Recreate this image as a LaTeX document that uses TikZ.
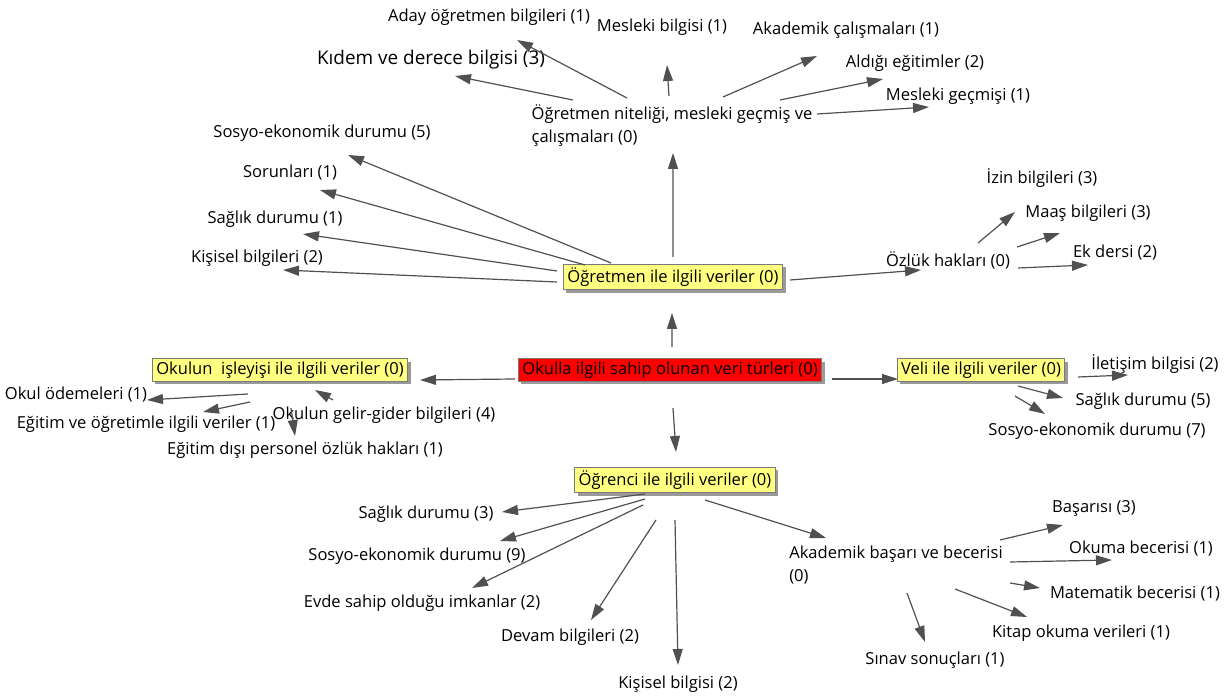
\documentclass[tikz,border=0pt]{standalone}
\usepackage{fontspec}
\setmainfont{Open Sans}
\usetikzlibrary{arrows.meta,shadows}
\definecolor{boxyellow}{HTML}{FFFF80}
\definecolor{boxred}{HTML}{FF0000}
\definecolor{linkgray}{HTML}{505050}
\definecolor{framegray}{HTML}{7A7A7A}
\definecolor{shadegray}{HTML}{9A9A9A}
\tikzset{
  lbl/.style={inner sep=1bp,font=\fontsize{8.3}{11.5}\selectfont},
  ybox/.style={lbl,draw=framegray,line width=0.5bp,fill=boxyellow,inner xsep=2bp,inner ysep=1.6bp,
    drop shadow={shadow xshift=1.5bp,shadow yshift=-1.5bp,fill=shadegray,opacity=1}},
  rbox/.style={ybox,fill=boxred},
  link/.style={draw=linkgray,line width=0.6bp},
}
\begin{document}
\begin{tikzpicture}[>={Triangle[length=8bp,width=5bp]},line join=bevel,]
\useasboundingbox (0bp,0bp) rectangle (613.5bp,349bp);
%%
\node (node_okulla) at (335.0bp,164.0bp) [rbox] {Okulla ilgili sahip olunan veri türleri (0)};
  \node (node_ogretmen) at (336.5bp,210.5bp) [ybox] {Öğretmen ile ilgili veriler (0)};
  \node (node_isleyis) at (140.0bp,164.0bp) [ybox] {Okulun\ \ işleyişi ile ilgili veriler (0)};
  \node (node_veli) at (490.5bp,164.0bp) [ybox] {Veli ile ilgili veriler (0)};
  \node (node_ogrenci) at (337.5bp,109.0bp) [ybox] {Öğrenci ile ilgili veriler (0)};
%
  \node (node_nitelik) at (336.0bp,286.0bp) [lbl,align=left] {Öğretmen niteliği, mesleki geçmiş ve\\çalışmaları (0)};
  \node (node_aday) at (244.5bp,340.5bp) [lbl] {Aday öğretmen bilgileri (1)};
  \node (node_meslekibilgi) at (331.0bp,335.5bp) [lbl] {Mesleki bilgisi (1)};
  \node (node_akademikcal) at (423.0bp,334.0bp) [lbl] {Akademik çalışmaları (1)};
  \node (node_aldigi) at (457.5bp,317.5bp) [lbl] {Aldığı eğitimler (2)};
  \node (node_meslekigecmis) at (479.0bp,301.0bp) [lbl] {Mesleki geçmişi (1)};
  \node (node_kidem) at (215.5bp,319.0bp) [lbl,font=\fontsize{9.5}{11}\selectfont] {Kıdem ve derece bilgisi (3)};
  \node (node_sosyo5) at (161.0bp,282.5bp) [lbl] {Sosyo-ekonomik durumu (5)};
  \node (node_sorunlari) at (145.0bp,262.5bp) [lbl] {Sorunları (1)};
  \node (node_saglik1) at (137.5bp,239.5bp) [lbl] {Sağlık durumu (1)};
  \node (node_kisisel2) at (128.5bp,220.0bp) [lbl] {Kişisel bilgileri (2)};
  \node (node_ozluk) at (474.0bp,219.0bp) [lbl] {Özlük hakları (0)};
  \node (node_izin) at (521.0bp,260.0bp) [lbl] {İzin bilgileri (3)};
  \node (node_maas) at (544.0bp,242.5bp) [lbl] {Maaş bilgileri (3)};
  \node (node_ekders) at (557.5bp,222.5bp) [lbl] {Ek dersi (2)};
%
  \node (node_odemeler) at (38.0bp,151.5bp) [lbl] {Okul ödemeleri (1)};
  \node (node_egitimogretim) at (73.0bp,137.0bp) [lbl] {Eğitim ve öğretimle ilgili veriler (1)};
  \node (node_gelirgider) at (192.0bp,141.5bp) [lbl] {Okulun gelir-gider bilgileri (4)};
  \node (node_egitimdisi) at (152.5bp,124.0bp) [lbl] {Eğitim dışı personel özlük hakları (1)};
  \node (node_iletisim) at (577.5bp,167.0bp) [lbl] {İletişim bilgisi (2)};
  \node (node_saglik5) at (571.5bp,148.5bp) [lbl] {Sağlık durumu (5)};
  \node (node_sosyo7) at (548.5bp,133.5bp) [lbl] {Sosyo-ekonomik durumu (7)};
%
  \node (node_saglik3) at (213.0bp,92.0bp) [lbl] {Sağlık durumu (3)};
  \node (node_sosyo9) at (208.5bp,71.0bp) [lbl] {Sosyo-ekonomik durumu (9)};
  \node (node_evde) at (211.0bp,47.5bp) [lbl] {Evde sahip olduğu imkanlar (2)};
  \node (node_devam) at (285.0bp,30.5bp) [lbl] {Devam bilgileri (2)};
  \node (node_kisiselbilgisi) at (339.0bp,7.0bp) [lbl] {Kişisel bilgisi (2)};
  \node (node_akademik) at (448.0bp,66.5bp) [lbl,align=left] {Akademik başarı ve becerisi\\(0)};
  \node (node_basarisi) at (547.0bp,94.5bp) [lbl] {Başarısı (3)};
  \node (node_okuma) at (570.5bp,74.5bp) [lbl] {Okuma becerisi (1)};
  \node (node_matematik) at (567.5bp,52.0bp) [lbl] {Matematik becerisi (1)};
  \node (node_kitap) at (540.5bp,32.5bp) [lbl] {Kitap okuma verileri (1)};
  \node (node_sinav) at (467.5bp,19.0bp) [lbl] {Sınav sonuçları (1)};
%%
  \draw [link,->] ([xshift=1bp,yshift=11.5bp]node_okulla.center) -- ([xshift=-0.5bp,yshift=-18bp]node_ogretmen.center);
  \draw [link,->] ([xshift=-77.5bp,yshift=-4.5bp]node_okulla.center) -- ([xshift=70bp,yshift=-5bp]node_isleyis.center);
  \draw [link,->] ([xshift=81bp,yshift=-4.5bp]node_okulla.center) -- ([xshift=-41.5bp,yshift=-4.5bp]node_veli.center);
  \draw [link,->] ([xshift=1.5bp,yshift=-19bp]node_okulla.center) -- ([xshift=0.5bp,yshift=14bp]node_ogrenci.center);
%
  \draw [link,->] ([yshift=10bp]node_ogretmen.center) -- ([xshift=0.5bp,yshift=-13.5bp]node_nitelik.center);
  \draw [link,->] ([xshift=-22.5bp,yshift=14bp]node_nitelik.center) -- ([xshift=14bp,yshift=-11.5bp]node_aday.center);
  \draw [link,->] ([xshift=-49.5bp,yshift=13bp]node_nitelik.center) -- ([xshift=12bp,yshift=-8bp]node_kidem.center);
  \draw [link,->] ([xshift=-1.5bp,yshift=15bp]node_nitelik.center) -- ([xshift=2.5bp,yshift=-19bp]node_meslekibilgi.center);
  \draw [link,->] ([xshift=25.5bp,yshift=14.5bp]node_nitelik.center) -- ([xshift=-14.5bp,yshift=-13bp]node_akademikcal.center);
  \draw [link,->] ([xshift=54bp,yshift=13bp]node_nitelik.center) -- ([xshift=-16bp,yshift=-8bp]node_aldigi.center);
  \draw [link,->] ([xshift=72.5bp,yshift=6bp]node_nitelik.center) -- ([xshift=-14.5bp,yshift=-5.5bp]node_meslekigecmis.center);
  \draw [link,->] ([xshift=-31bp,yshift=7bp]node_ogretmen.center) -- ([xshift=13bp,yshift=-11bp]node_sosyo5.center);
  \draw [link,->] ([xshift=-44bp,yshift=6bp]node_ogretmen.center) -- ([xshift=15bp,yshift=-8.5bp]node_sorunlari.center);
  \draw [link,->] ([xshift=-58bp,yshift=3bp]node_ogretmen.center) -- ([xshift=14bp,yshift=-7.5bp]node_saglik1.center);
  \draw [link,->] ([xshift=-58bp,yshift=-2.5bp]node_ogretmen.center) -- ([xshift=13bp,yshift=-6bp]node_kisisel2.center);
  \draw [link,->] ([xshift=58.5bp,yshift=-1.5bp]node_ogretmen.center) -- ([xshift=-13.5bp,yshift=-5bp]node_ozluk.center);
  \draw [link,->] ([xshift=15bp,yshift=8.5bp]node_ozluk.center) -- ([xshift=-13.5bp,yshift=-17bp]node_izin.center);
  \draw [link,->] ([xshift=34.5bp,yshift=6.5bp]node_ozluk.center) -- ([xshift=-14bp,yshift=-10bp]node_maas.center);
  \draw [link,->] ([xshift=35bp,yshift=-4bp]node_ozluk.center) -- ([xshift=-13.5bp,yshift=-6bp]node_ekders.center);
%
  \draw [link,->] ([xshift=-16bp,yshift=-12bp]node_isleyis.center) -- ([xshift=35.5bp,yshift=-2.5bp]node_odemeler.center);
  \draw [link,->] ([xshift=-15bp,yshift=-16bp]node_isleyis.center) -- ([xshift=28.5bp,yshift=6bp]node_egitimogretim.center);
  \draw [link,->] ([xshift=-25.5bp,yshift=7.5bp]node_gelirgider.center) -- ([xshift=17.5bp,yshift=-10bp]node_isleyis.center);
  \draw [link,->] ([xshift=5.5bp,yshift=-19bp]node_isleyis.center) -- ([xshift=-5bp,yshift=7bp]node_egitimdisi.center);
  \draw [link,->] ([xshift=48.5bp,yshift=-3.5bp]node_veli.center) -- ([xshift=-13.5bp,yshift=-5.5bp]node_iletisim.center);
  \draw [link,->] ([xshift=18.5bp,yshift=-8bp]node_veli.center) -- ([xshift=-40bp,yshift=1.5bp]node_saglik5.center);
  \draw [link,->] ([xshift=17bp,yshift=-13bp]node_veli.center) -- ([xshift=-26bp,yshift=8.5bp]node_sosyo7.center);
%
  \draw [link,->] ([xshift=-15bp,yshift=-7bp]node_ogrenci.center) -- ([xshift=38bp,yshift=1bp]node_saglik3.center);
  \draw [link,->] ([xshift=-15bp,yshift=-9.5bp]node_ogrenci.center) -- ([xshift=41.5bp,yshift=7.5bp]node_sosyo9.center);
  \draw [link,->] ([xshift=-16bp,yshift=-12.5bp]node_ogrenci.center) -- ([xshift=25bp,yshift=7.5bp]node_evde.center);
  \draw [link,->] ([xshift=-9.5bp,yshift=-20bp]node_ogrenci.center) -- ([xshift=10.5bp,yshift=8.5bp]node_devam.center);
  \draw [link,->] ([yshift=-20bp]node_ogrenci.center) -- ([yshift=9.5bp]node_kisiselbilgisi.center);
  \draw [link,->] ([xshift=15bp,yshift=-10bp]node_ogrenci.center) -- ([xshift=-35bp,yshift=13.5bp]node_akademik.center);
  \draw [link,->] ([xshift=52bp,yshift=12.5bp]node_akademik.center) -- ([xshift=-15.5bp,yshift=-8bp]node_basarisi.center);
  \draw [link,->] ([xshift=57bp,yshift=1.5bp]node_akademik.center) -- ([xshift=-14.5bp,yshift=-5.5bp]node_okuma.center);
  \draw [link,->] ([xshift=57bp,yshift=-9bp]node_akademik.center) -- ([xshift=-47.5bp,yshift=3bp]node_matematik.center);
  \draw [link,->] ([xshift=29.5bp,yshift=-12bp]node_akademik.center) -- ([xshift=-27bp,yshift=8bp]node_kitap.center);
  \draw [link,->] ([xshift=5.5bp,yshift=-14bp]node_akademik.center) -- ([xshift=-5bp,yshift=9bp]node_sinav.center);
%
\end{tikzpicture}
\end{document}
